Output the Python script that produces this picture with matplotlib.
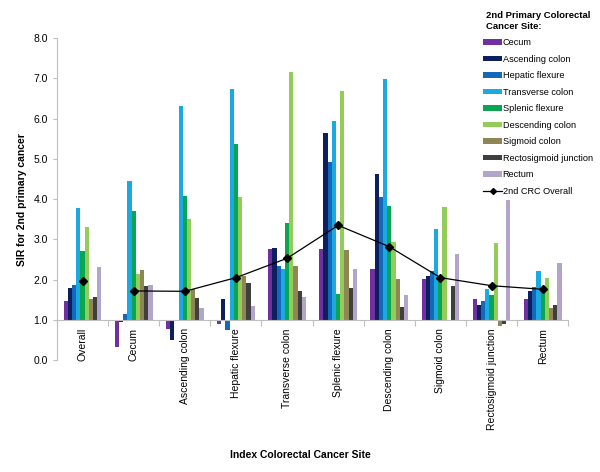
import numpy as np
import matplotlib.pyplot as plt
from matplotlib.ticker import FormatStrFormatter

plt.rcParams['font.family'] = ['Liberation Sans', 'DejaVu Sans']

# index site (x categories)
index_sites = ["Overall", "Cecum", "Ascending colon", "Hepatic flexure", "Transverse colon",
               "Splenic flexure", "Descending colon", "Sigmoid colon",
               "Rectosigmoid junction", "Rectum"]

# 2nd primary site series (SIR values per index site)
cecum        = [1.47, 0.32, 0.77, 0.89, 2.76, 2.75, 2.26, 2.01, 1.51, 1.52]
ascending    = [1.80, 0.95, 0.51, 1.51, 2.79, 5.65, 4.63, 2.10, 1.36, 1.72]
hepatic      = [1.86, 1.14, 0.98, 0.75, 2.35, 4.92, 4.06, 2.21, 1.47, 1.82]
transverse   = [3.78, 4.44, 6.32, 6.73, 2.27, 5.95, 6.98, 3.26, 1.78, 2.21]
splenic      = [2.72, 3.71, 4.09, 5.38, 3.40, 1.64, 3.84, 2.02, 1.62, 1.81]
descending   = [3.30, 2.14, 3.51, 4.06, 7.17, 6.70, 2.93, 3.80, 2.90, 2.03]
sigmoid      = [1.53, 2.23, 1.76, 2.09, 2.34, 2.74, 2.02, 0.98, 0.85, 1.30]
rectosigmoid = [1.58, 1.84, 1.55, 1.92, 1.72, 1.80, 1.33, 1.84, 0.90, 1.37]
rectum       = [2.31, 1.87, 1.29, 1.34, 1.56, 2.26, 1.62, 2.64, 3.98, 2.41]
crc_overall  = [1.97, 1.72, 1.71, 2.05, 2.53, 3.35, 2.82, 2.05, 1.85, 1.76]

series = [cecum, ascending, hepatic, transverse, splenic, descending, sigmoid, rectosigmoid, rectum]
series_names = ["Cecum", "Ascending colon", "Hepatic flexure", "Transverse colon", "Splenic flexure",
                "Descending colon", "Sigmoid colon", "Rectosigmoid junction", "Rectum"]
colors = ["#7030A0", "#0C1F5E", "#1468B8", "#1BA9E2", "#0BA551", "#94CC5A",
          "#8F8655", "#3F3F3F", "#B3A5C9"]

fig = plt.figure(figsize=(6, 4.72), dpi=100)
ax = fig.add_axes([0.095, 0.237, 0.852, 0.682])

x = np.arange(len(index_sites))
w = 0.082
for j, (vals, name, c) in enumerate(zip(series, series_names, colors)):
    v = np.array(vals)
    ax.bar(x + (j - 4) * w, v - 1.0, bottom=1.0, width=w, color=c, label=name, linewidth=0)

# overall SIR line (Overall point not joined to the rest)
ax.plot(x[1:], crc_overall[1:], color="black", linewidth=0.9, zorder=5)
ax.plot(x, crc_overall, linestyle="none", marker="D", markersize=3.8, color="black", zorder=6)
line_handle, = ax.plot([], [], color="black", linewidth=0.9, marker="D", markersize=3)

ax.set_xlim(-0.5, 9.5)
ax.set_ylim(0, 8)
ax.set_yticks(np.arange(0, 8.1, 1.0))
ax.yaxis.set_major_formatter(FormatStrFormatter("%.1f"))

for s in ["top", "right"]:
    ax.spines[s].set_visible(False)
ax.spines["bottom"].set_position(("data", 1.0))
ax.spines["bottom"].set_color("#BFBFBF")
ax.spines["left"].set_color("#BFBFBF")

ax.set_xticks(np.arange(-0.5, 10, 1.0))
ax.set_xticklabels([])
ax.set_xticks(x, minor=True)
ax.set_xticklabels(index_sites, minor=True, rotation=90, fontsize=7.5, va="top")
ax.tick_params(axis="x", which="major", length=4, color="#BFBFBF")
ax.tick_params(axis="x", which="minor", length=0, pad=6)
ax.tick_params(axis="y", length=3, color="#BFBFBF", labelsize=7.5)

ax.set_ylabel("SIR for 2nd primary cancer", fontsize=7.5, fontweight="bold", labelpad=5)
fig.text(0.5, 0.03, "Index Colorectal Cancer Site", fontsize=7.5, fontweight="bold", ha="center")

handles, labels = ax.get_legend_handles_labels()
handles.append(line_handle)
labels.append("2nd CRC Overall")
leg = fig.legend(handles, labels, loc="upper left", bbox_to_anchor=(0.801, 0.982),
                 frameon=False, fontsize=6.6, title="2nd Primary Colorectal\nCancer Site:",
                 title_fontproperties={"weight": "bold", "size": 6.8},
                 handlelength=2.0, handleheight=0.5, handletextpad=0.1, labelspacing=0.82,
                 borderaxespad=0, borderpad=0.3)
leg._legend_box.align = "center"

fig.savefig("out.png", dpi=100)
